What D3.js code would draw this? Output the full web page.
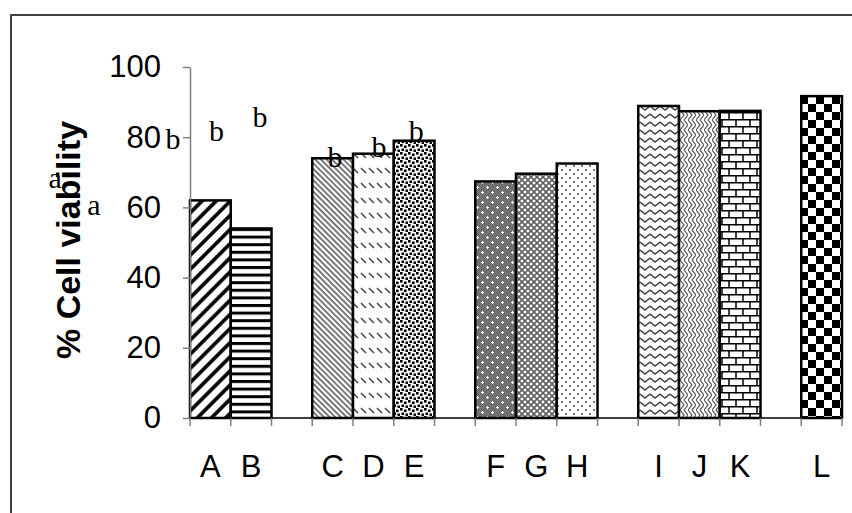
<!DOCTYPE html>
<html>
<head>
<meta charset="utf-8">
<script src="https://cdn.jsdelivr.net/npm/d3@7"></script>
<style>
  body { margin: 0; background: #fff; }
  svg { display: block; }
</style>
</head>
<body>
<div id="chart"></div>
<script>
const groups = [['A', 'B'], ['C', 'D', 'E'], ['F', 'G', 'H'], ['I', 'J', 'K'], ['L']];
const categories = ['A', 'B', 'C', 'D', 'E', 'F', 'G', 'H', 'I', 'J', 'K', 'L'];
const viability = [62, 54, 74, 75.3, 79, 67.4, 69.6, 72.5, 88.9, 87.4, 87.5, 91.7];
const yTicks = [0, 20, 40, 60, 80, 100];
// significance letters: text, position in category slots, value
const letters = [
  { t: 'b', slot: 0.65, v: 79 },
  { t: 'b', slot: 1.72, v: 83 },
  { t: 'b', slot: 3.56, v: 71.6 },
  { t: 'b', slot: 4.64, v: 74.5 },
  { t: 'b', slot: 5.55, v: 79 },
  { t: 'b', slot: -0.42, v: 76.5 },
  { t: 'a', slot: -3.31, v: 65.5 },
  { t: 'a', slot: -2.36, v: 57.8 }
];

const width = 852, height = 513;
const svg = d3.select('#chart').append('svg')
  .attr('width', width).attr('height', height);

// slot domain: categories with an empty slot between groups
const slots = [];
groups.forEach((g, i) => {
  g.forEach(c => slots.push(c));
  if (i < groups.length - 1) slots.push('_' + i);
});

const x = d3.scaleBand().domain(slots).range([190, 842]).padding(0);
const slotX = d3.scaleLinear().domain([0, slots.length]).range([190, 842]);
const y = d3.scaleLinear().domain([0, 100]).range([418, 67]);

// ---- fill patterns ----
const defs = svg.append('defs');
const pat = (id, w, h, extra) => {
  const p = defs.append('pattern').attr('id', id)
    .attr('patternUnits', 'userSpaceOnUse')
    .attr('width', w).attr('height', h);
  if (extra) p.attr('patternTransform', extra);
  p.append('rect').attr('width', w).attr('height', h).attr('fill', '#fff');
  return p;
};

let p = pat('pA', 10, 10, 'rotate(45)');
p.append('rect').attr('x', 3.2).attr('width', 3.6).attr('height', 10).attr('fill', '#000');

p = pat('pB', 10, 7.6);
p.append('rect').attr('y', 0).attr('width', 10).attr('height', 3).attr('fill', '#000');

p = pat('pC', 4, 4, 'rotate(-45)');
p.append('rect').attr('x', 1.5).attr('width', 1.2).attr('height', 4).attr('fill', '#222');

p = pat('pD', 8, 15);
p.append('path').attr('d', 'M1,3 L6,8').attr('stroke', '#444').attr('stroke-width', 1.5);

p = pat('pE', 8, 8);
[[0, 0], [4, 1.5], [1.5, 4.5], [5.5, 5.5]].forEach(([a, b]) =>
  p.append('rect').attr('x', a).attr('y', b).attr('width', 2.6).attr('height', 2.6).attr('fill', '#000'));

p = pat('pF', 10, 10);
p.select('rect').attr('fill', '#707070');
[[2.5, 2.5], [7.5, 7.5]].forEach(([a, b]) =>
  p.append('path').attr('d', `M${a - 1.5},${b} h3 M${a},${b - 1.5} v3`)
    .attr('stroke', '#fff').attr('stroke-width', 1));

p = pat('pG', 6, 6);
p.append('path').attr('d', 'M0,0 L6,6 M6,0 L0,6').attr('stroke', '#606060').attr('stroke-width', 1.6);

p = pat('pH', 8, 8);
[[2, 2], [6, 6]].forEach(([a, b]) =>
  p.append('circle').attr('cx', a).attr('cy', b).attr('r', 1.1).attr('fill', '#555'));

p = pat('pI', 10, 8);
p.append('path').attr('d', 'M0,2 L5,6 L10,2').attr('fill', 'none')
  .attr('stroke', '#444').attr('stroke-width', 1.6);

p = pat('pJ', 8, 10);
p.append('path').attr('d', 'M0,0 L4,5 L0,10 M4,0 L8,5 L4,10').attr('fill', 'none')
  .attr('stroke', '#666').attr('stroke-width', 1.3);

p = pat('pK', 14, 14);
p.append('path').attr('d', 'M0,0.75 H14 M0,7.75 H14 M1,0 V7 M8,7 V14')
  .attr('stroke', '#000').attr('stroke-width', 1.5);

p = pat('pL', 16, 16);
p.append('rect').attr('width', 8).attr('height', 8).attr('fill', '#000');
p.append('rect').attr('x', 8).attr('y', 8).attr('width', 8).attr('height', 8).attr('fill', '#000');

// ---- outer frame ----
svg.append('rect')
  .attr('x', 11).attr('y', 15).attr('width', 900).attr('height', 600)
  .attr('fill', 'none').attr('stroke', '#404040').attr('stroke-width', 2);

// ---- bars ----
svg.append('g').selectAll('rect')
  .data(categories.map((c, i) => ({ c, v: viability[i] })))
  .join('rect')
    .attr('x', d => x(d.c))
    .attr('width', x.bandwidth())
    .attr('y', d => y(d.v))
    .attr('height', d => y(0) - y(d.v))
    .attr('fill', d => `url(#p${d.c})`)
    .attr('stroke', '#000')
    .attr('stroke-width', 2.5);

// ---- y axis ----
const yAxis = svg.append('g')
  .attr('transform', 'translate(190,0)')
  .call(d3.axisLeft(y).tickValues(yTicks).tickSize(7).tickPadding(22).tickSizeOuter(0));
yAxis.select('.domain').attr('stroke', '#808080').attr('stroke-width', 1.5);
yAxis.selectAll('.tick line').attr('stroke', '#808080').attr('stroke-width', 1.5);
yAxis.selectAll('.tick text')
  .attr('font-family', 'Liberation Sans, Arial, sans-serif')
  .attr('font-size', 31).attr('fill', '#000');

// ---- x axis ----
const xAxis = svg.append('g').attr('transform', `translate(0,${y(0)})`);
xAxis.append('line')
  .attr('x1', 190).attr('x2', 842)
  .attr('stroke', '#000').attr('stroke-width', 1.5);
xAxis.selectAll('line.tk')
  .data(d3.range(slots.length + 1))
  .join('line').attr('class', 'tk')
    .attr('x1', d => slotX(d)).attr('x2', d => slotX(d))
    .attr('y1', 0).attr('y2', 8)
    .attr('stroke', '#808080').attr('stroke-width', 1.5);
xAxis.selectAll('text')
  .data(categories)
  .join('text')
    .attr('x', d => x(d) + x.bandwidth() / 2)
    .attr('y', 59)
    .attr('text-anchor', 'middle')
    .attr('font-family', 'Liberation Sans, Arial, sans-serif')
    .attr('font-size', 31)
    .text(d => d);

// ---- y title ----
svg.append('text')
  .attr('transform', 'translate(80,240) rotate(-90)')
  .attr('text-anchor', 'middle')
  .attr('font-family', 'Liberation Sans, Arial, sans-serif')
  .attr('font-weight', 'bold')
  .attr('font-size', 34)
  .text('% Cell viability');

// ---- letters ----
svg.append('g').selectAll('text')
  .data(letters)
  .join('text')
    .attr('x', d => slotX(d.slot))
    .attr('y', d => y(d.v))
    .attr('text-anchor', 'middle')
    .attr('font-family', 'Liberation Serif, Times New Roman, serif')
    .attr('font-size', 30)
    .text(d => d.t);
</script>
</body>
</html>
